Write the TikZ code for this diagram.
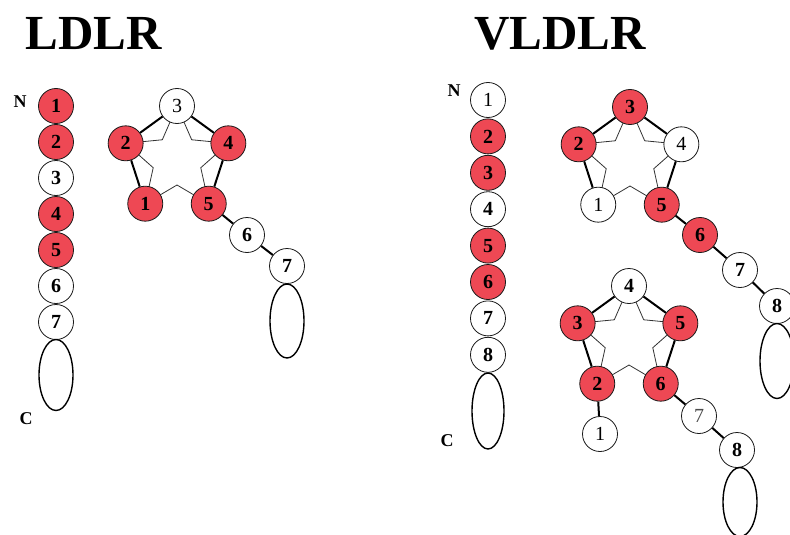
\documentclass[tikz,border=0pt]{standalone}
\usepackage{fontspec}
\setmainfont{Liberation Serif}
\usetikzlibrary{shapes.geometric}
\definecolor{domred}{RGB}{238,72,84}
\begin{document}
\begin{tikzpicture}[x=1pt,y=-1pt,
  dom/.style={circle,draw=black!90,line width=0.8pt,minimum size=35pt,inner sep=0pt,
    font=\fontsize{20}{20}\selectfont\bfseries},
  rd/.style={dom,fill=domred},
  wt/.style={dom,fill=white},
  oval/.style={ellipse,draw=black,line width=1.4pt,inner sep=0pt,minimum width=34pt},
  link/.style={line width=2pt},
  starline/.style={line width=0.8pt,draw=black!80},
  title/.style={font=\fontsize{49}{49}\selectfont\bfseries},
  term/.style={font=\fontsize{18}{18}\selectfont\bfseries}]
\useasboundingbox[fill=white] (0,0) rectangle (790,535);

% titles
\node[title] (tL) at (94,34) {LDLR};
\node[title] (tV) at (560,34) {VLDLR};

% ---------------- LDLR linear chain
\node[term] (lN) at (20,102) {N};
\node[term] (lC) at (26,419) {C};
\node[rd] (a1) at (56,106) {1};
\node[rd] (a2) at (56,142) {2};
\node[wt] (a3) at (56,178) {3};
\node[rd] (a4) at (56,214) {4};
\node[rd] (a5) at (56,250) {5};
\node[wt] (a6) at (56,286) {6};
\node[wt] (a7) at (56,322) {7};
\node[oval,minimum height=71pt] (aO) at (56,375) {};

% ---------------- VLDLR linear chain
\node[term] (vN) at (454,91) {N};
\node[term] (vC) at (447,441) {C};
\node[wt] (b1) at (488,100) {\mdseries 1};
\node[rd] (b2) at (488,136.4) {2};
\node[rd] (b3) at (488,172.8) {3};
\node[wt] (b4) at (488,209.2) {4};
\node[rd] (b5) at (488,245.6) {5};
\node[rd] (b6) at (488,282) {6};
\node[wt] (b7) at (488,318.4) {7};
\node[wt] (b8) at (488,354.8) {8};
\node[oval,minimum width=32pt,minimum height=76pt] (bO) at (488,411) {};

% ---------------- LDLR pentagon
\begin{scope}[shift={(177,160)}]
  \draw[starline] (270:54) -- (234:25) -- (198:54) -- (162:25) -- (126:54) -- (90:25)
    -- (54:54) -- (18:25) -- (342:54) -- (306:25) -- cycle;
  \node[wt] (p3) at (270:54) {\mdseries 3};
  \node[rd] (p2) at (198:54) {2};
  \node[rd] (p4) at (342:54) {4};
  \node[rd] (p1) at (126:54) {1};
  \node[rd] (p5) at (54:54) {5};
\end{scope}
\node[wt] (p6) at (247,235) {6};
\node[wt] (p7) at (287,266) {7};
\node[oval,minimum height=74pt] (pO) at (287,321) {};
\draw[link] (p3) -- (p2) (p3) -- (p4) (p2) -- (p1) (p4) -- (p5)
  (p5) -- (p6) (p6) -- (p7);

% ---------------- VLDLR upper pentagon
\begin{scope}[shift={(630,161)}]
  \draw[starline] (270:54) -- (234:25) -- (198:54) -- (162:25) -- (126:54) -- (90:25)
    -- (54:54) -- (18:25) -- (342:54) -- (306:25) -- cycle;
  \node[rd] (q3) at (270:54) {3};
  \node[rd] (q2) at (198:54) {2};
  \node[wt] (q4) at (342:54) {\mdseries 4};
  \node[wt] (q1) at (126:54) {\mdseries 1};
  \node[rd] (q5) at (54:54) {5};
\end{scope}
\node[rd] (q6) at (700,235) {6};
\node[wt] (q7) at (740,270) {7};
\node[wt] (q8) at (777,306) {8};
\node[oval,minimum height=75pt] (qO) at (777,361) {};
\draw[link] (q3) -- (q2) (q3) -- (q4) (q2) -- (q1) (q4) -- (q5)
  (q5) -- (q6) (q6) -- (q7) (q7) -- (q8);

% ---------------- VLDLR lower pentagon
\begin{scope}[shift={(629,340)}]
  \draw[starline] (270:54) -- (234:25) -- (198:54) -- (162:25) -- (126:54) -- (90:25)
    -- (54:54) -- (18:25) -- (342:54) -- (306:25) -- cycle;
  \node[wt] (r4) at (270:54) {4};
  \node[rd] (r3) at (198:54) {3};
  \node[rd] (r5) at (342:54) {5};
  \node[rd] (r2) at (126:54) {2};
  \node[rd] (r6) at (54:54) {6};
\end{scope}
\node[wt] (r1) at (600,434) {\mdseries 1};
\node[wt] (r7) at (699,416) {\mdseries\color{black!70}7};
\node[wt] (r8) at (737,450) {8};
\node[oval,minimum height=69pt] (rO) at (740,502) {};
\draw[link] (r4) -- (r3) (r4) -- (r5) (r3) -- (r2) (r5) -- (r6)
  (r2) -- (r1) (r6) -- (r7) (r7) -- (r8);
\end{tikzpicture}
\end{document}
